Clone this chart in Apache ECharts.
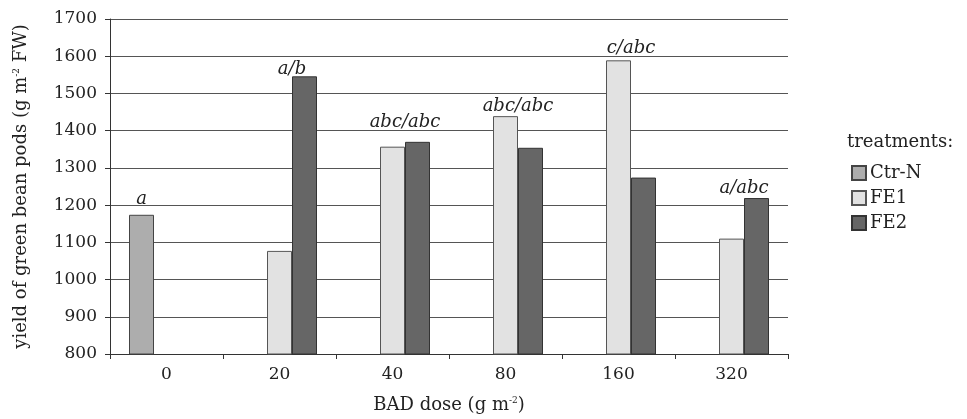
<!DOCTYPE html>
<html>
<head>
<meta charset="utf-8">
<script src="https://cdn.jsdelivr.net/npm/echarts@6/dist/echarts.min.js"></script>
<style>html,body{margin:0;padding:0;background:#fff}#c{width:967px;height:419px}</style>
</head>
<body>
<div id="c"></div>
<script>
var categories = ['0', '20', '40', '80', '160', '320'];
var seriesNames = ['Ctr-N', 'FE1', 'FE2'];
var ctrN = [1174, null, null, null, null, null];
var fe1 = [null, 1077, 1357, 1439, 1589, 1110];
var fe2 = [null, 1546, 1370, 1354, 1274, 1219];
var sigLabels = ['a', 'a/b', 'abc/abc', 'abc/abc', 'c/abc', 'a/abc'];
var sigLabelAt = [1216, 1566, 1422, 1465, 1622, 1246];
var yTicks = {min: 800, max: 1700, step: 100};

var SERIF = '"DejaVu Serif", "Liberation Serif", serif';
var chart = echarts.init(document.getElementById('c'), null, {renderer: 'canvas'});

var markData = sigLabels.map(function (t, i) {
  return {
    coord: [i, sigLabelAt[i]],
    label: {offset: [i === 0 ? -25 : 12.5, 0]},
    value: t
  };
});

chart.setOption({
  animation: false,
  backgroundColor: '#fff',
  title: {
    text: 'treatments:',
    left: 847, top: 133,
    padding: 0,
    textStyle: {fontFamily: SERIF, fontSize: 18, fontWeight: 'normal', color: '#222'}
  },
  legend: {
    orient: 'vertical',
    left: 851, top: 164,
    padding: 0,
    itemWidth: 14, itemHeight: 14, itemGap: 7,
    icon: 'rect',
    data: seriesNames,
    textStyle: {fontFamily: SERIF, fontSize: 18, color: '#222', lineHeight: 18, padding: [0, 0, 0, -1]}
  },
  grid: {left: 110, right: 179, top: 19, bottom: 63},
  xAxis: {
    type: 'category',
    data: categories,
    name: 'BAD dose (g m{sup|-2})',
    nameLocation: 'middle',
    nameGap: 42,
    nameTextStyle: {fontFamily: SERIF, fontSize: 18, color: '#222',
      rich: {sup: {fontSize: 9, verticalAlign: 'top', padding: [0, 0, 8, 0], fontFamily: SERIF, color: '#222'}}},
    axisLine: {lineStyle: {color: '#333', width: 1}},
    axisTick: {show: true, length: 5, alignWithLabel: false, lineStyle: {color: '#333'}},
    axisLabel: {fontFamily: SERIF, fontSize: 17, color: '#222', margin: 12}
  },
  yAxis: {
    type: 'value',
    min: yTicks.min, max: yTicks.max, interval: yTicks.step,
    name: 'yield of green bean pods (g m{sup|-2} FW)',
    nameLocation: 'middle',
    nameGap: 80,
    nameRotate: 90,
    nameTextStyle: {fontFamily: SERIF, fontSize: 18, color: '#222',
      rich: {sup: {fontSize: 9, verticalAlign: 'top', padding: [0, 0, 8, 0], fontFamily: SERIF, color: '#222'}}},
    axisLine: {show: true, lineStyle: {color: '#333', width: 1}},
    axisTick: {show: true, length: 5, lineStyle: {color: '#333'}},
    axisLabel: {fontFamily: SERIF, fontSize: 17, color: '#222', margin: 13,
      formatter: function (v) { return String(v); }},
    splitLine: {lineStyle: {color: '#555', width: 1}}
  },
  series: [
    {name: 'Ctr-N', type: 'bar', data: ctrN, barWidth: 25, barGap: '0%',
      itemStyle: {color: '#adadad', borderColor: '#444', borderWidth: 1}},
    {name: 'FE1', type: 'bar', data: fe1, barWidth: 25, barGap: '0%',
      itemStyle: {color: '#e2e2e2', borderColor: '#555', borderWidth: 1},
      markPoint: {
        symbol: 'circle', symbolSize: 0,
        label: {show: true, position: 'inside', formatter: function (p) { return p.data.value; },
          fontFamily: SERIF, fontStyle: 'italic', fontSize: 18, color: '#222'},
        data: markData
      }},
    {name: 'FE2', type: 'bar', data: fe2, barWidth: 25, barGap: '0%',
      itemStyle: {color: '#666666', borderColor: '#333', borderWidth: 1}}
  ]
});
</script>
</body>
</html>
